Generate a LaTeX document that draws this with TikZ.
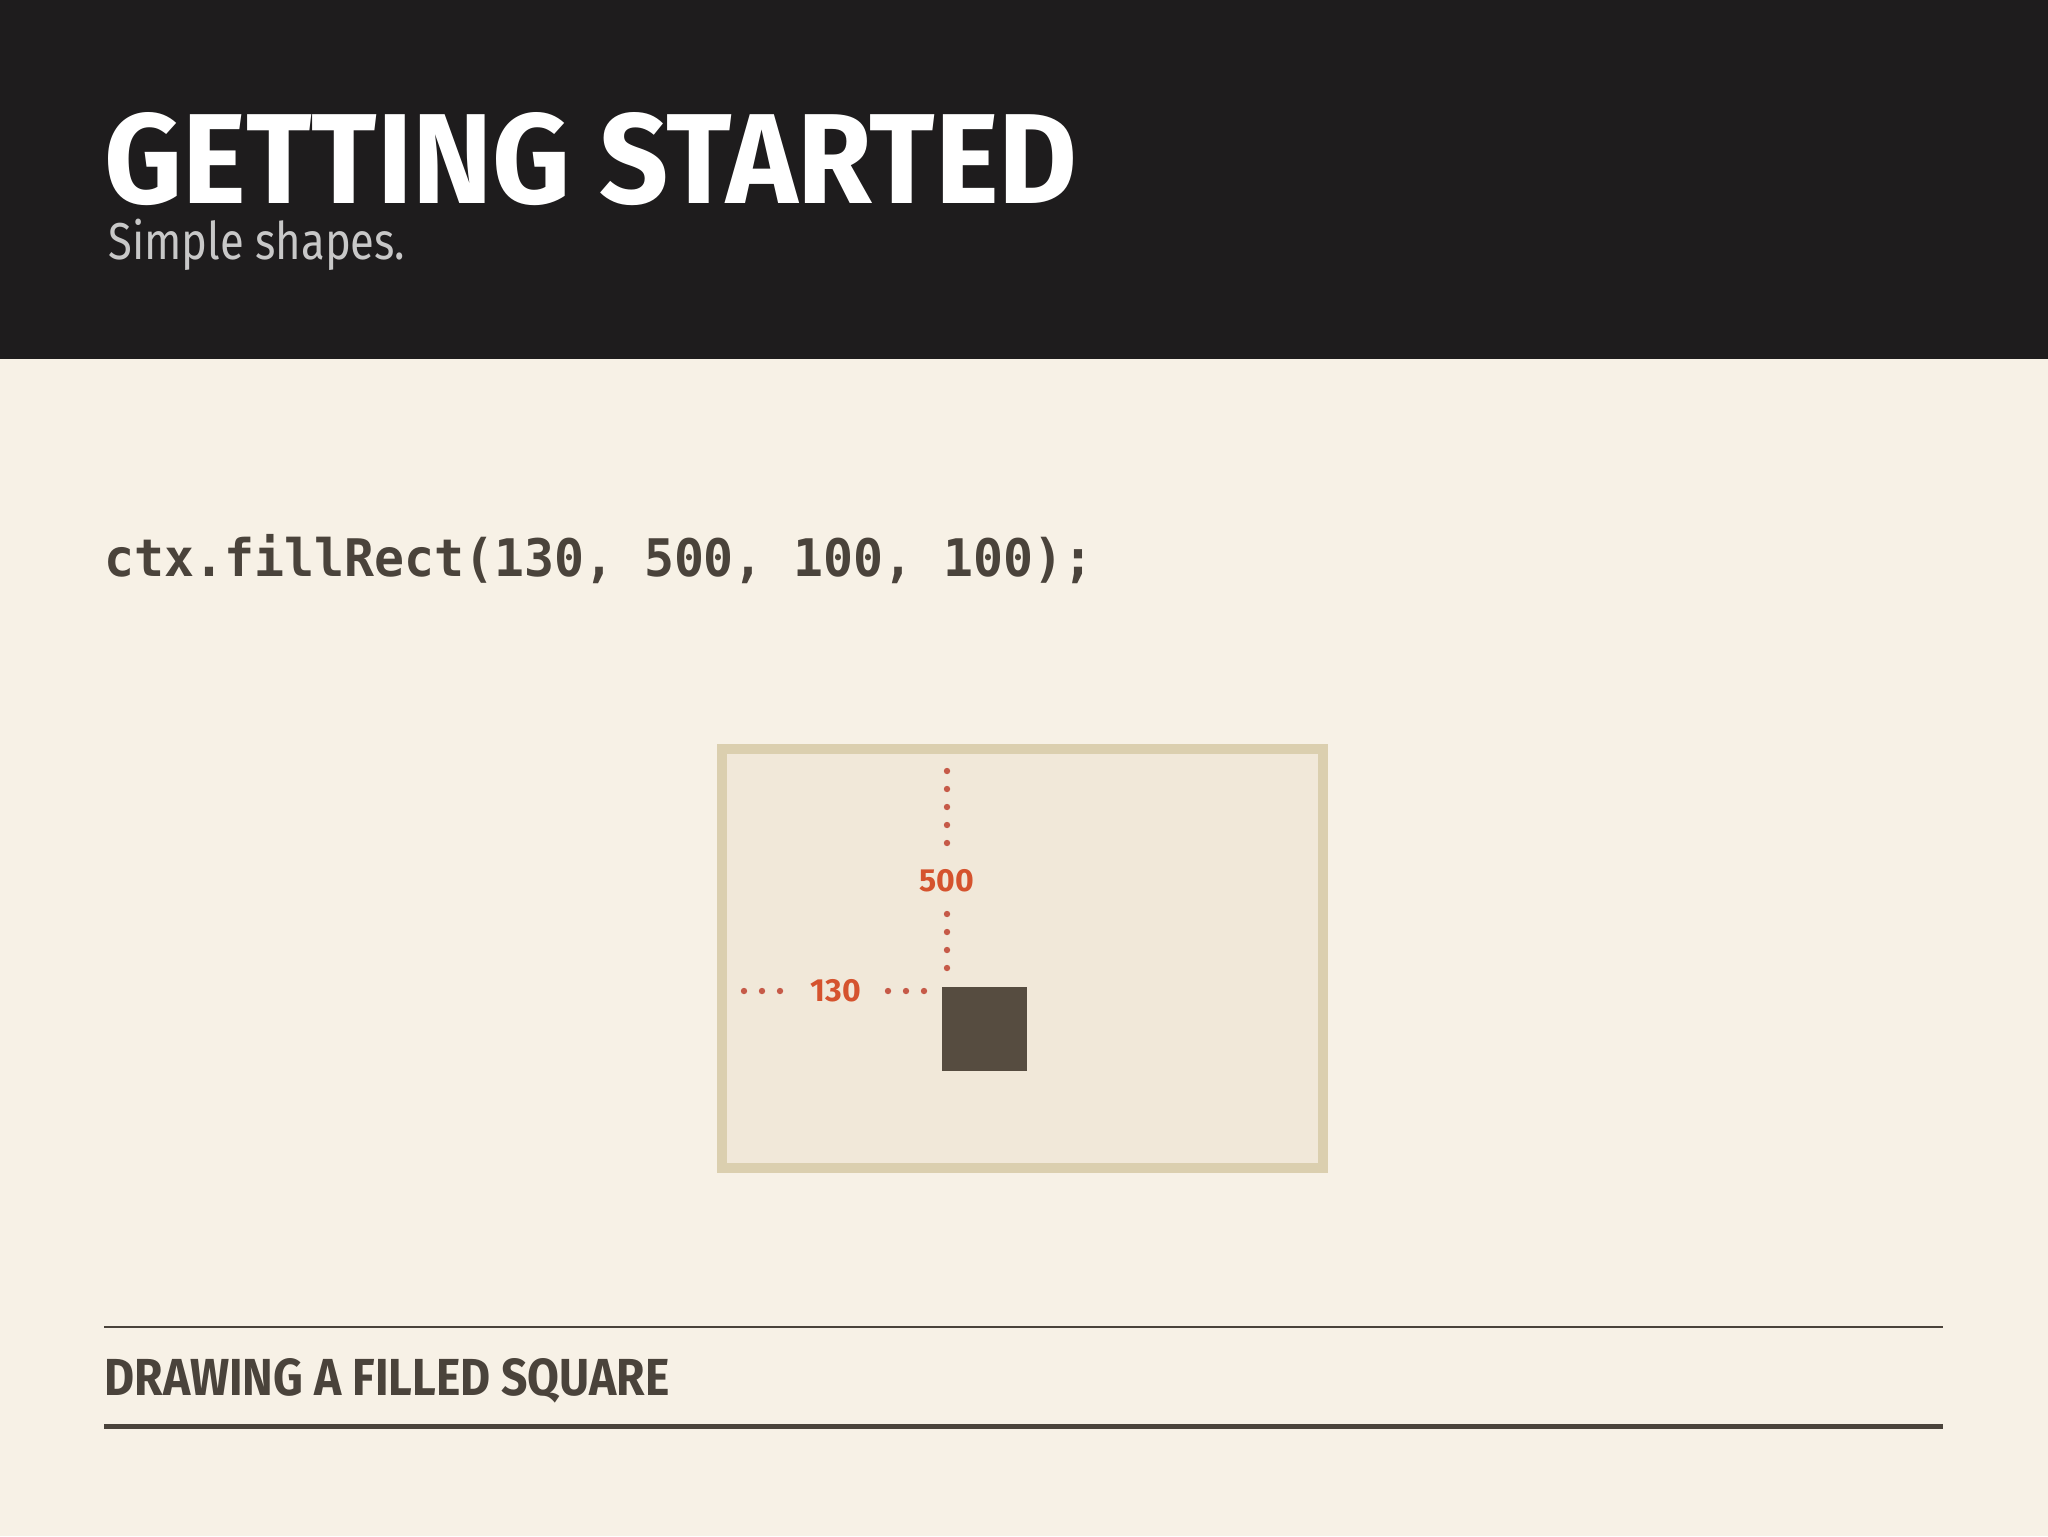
\documentclass[tikz,border=0pt]{standalone}
\usepackage{fontspec}
\setmainfont{Fira Sans}
\setmonofont{DejaVu Sans Mono}
\usepackage{graphicx}
\usepackage{tikz}
\usetikzlibrary{positioning,calc}
\definecolor{paper}{HTML}{F7F1E6}
\definecolor{header}{HTML}{1E1C1D}
\definecolor{subgray}{HTML}{C8C8C8}
\definecolor{ink}{HTML}{4A433B}
\definecolor{canvasfill}{HTML}{F1E8D9}
\definecolor{canvasframe}{HTML}{DBCFAF}
\definecolor{squarefill}{HTML}{564C40}
\definecolor{numred}{HTML}{D5532E}
\definecolor{dotred}{HTML}{C65A48}

\begin{document}
\begin{tikzpicture}[x=0.5pt,y=-0.5pt,
  numlabel/.style={text=numred,font=\fontsize{16}{16}\selectfont\bfseries,inner sep=0},
  guidedot/.style={fill=dotred},
  rule/.style={draw=ink,line width=#1}]
\useasboundingbox (0,0) rectangle (2048,1536);
\fill [paper] (0,0) rectangle (2048,1536);
\fill [header] (0,0) rectangle (2048,359);

% heading
\node [anchor=south west, inner sep=0, text=white] (title) at (104,206) {\resizebox{486.5pt}{45.5pt}{\bfseries GETTING STARTED}};
\node [anchor=base west, inner sep=0, text=subgray] (subtitle) at (108,259) {\resizebox{148.5pt}{!}{\scalebox{0.84}[1]{\fontsize{25.5}{27}\selectfont Simple shapes.}}};

% code line
\node [anchor=base west, inner sep=0, text=ink] (code) at (104,576) {\scalebox{1}[1.04]{\fontsize{24.9}{28}\selectfont\ttfamily\bfseries ctx.fillRect(130, 500, 100, 100);}};

% canvas and square
\draw [canvasframe, line width=5pt, fill=canvasfill] (722,749) rectangle (1323,1168);
\coordinate (sq) at (942,987);
\fill [squarefill] (sq) rectangle ++(85,84);

\node [numlabel] (n500) at (947,881) {500};
\node [numlabel] (n130) at (836,991) {130};
\foreach \y in {771,789,...,843} \fill [guidedot] (947,\y) circle (3.2);
\foreach \y in {914,932,950,968} \fill [guidedot] (947,\y) circle (3.2);
\foreach \x in {744,762,780} \fill [guidedot] (\x,991) circle (3.2);
\foreach \x in {888,906,924} \fill [guidedot] (\x,991) circle (3.2);

% caption
\draw [rule=1pt] (104,1327) -- (1943,1327);
\node [anchor=base west, inner sep=0, text=ink] (caption) at (104,1395) {\resizebox{282.5pt}{18.5pt}{\bfseries DRAWING A FILLED SQUARE}};
\draw [rule=2.5pt] (104,1426) -- (1943,1426);
\end{tikzpicture}
\end{document}
